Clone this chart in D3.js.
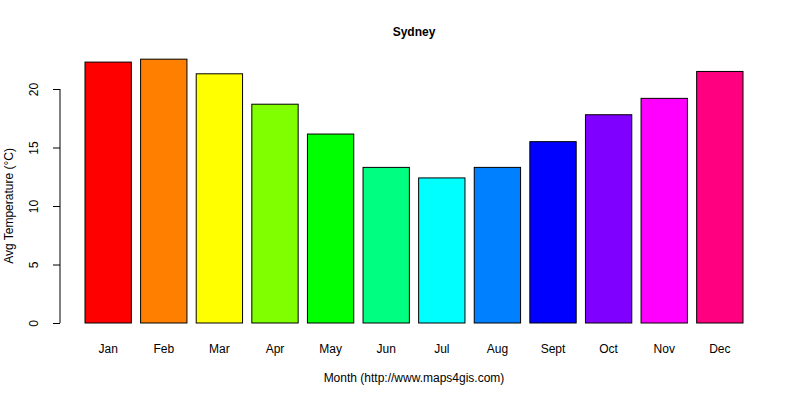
<!DOCTYPE html>
<html><head><meta charset="utf-8">
<script src="https://cdn.jsdelivr.net/npm/d3@7"></script>
<style>body{margin:0;background:#fff}text{font-family:"Liberation Sans",Arial,sans-serif;font-size:12px;fill:#000}</style>
</head><body><svg id="c" width="800" height="400"></svg>
<script>
const months=["Jan","Feb","Mar","Apr","May","Jun","Jul","Aug","Sept","Oct","Nov","Dec"];
const temps=[22.3,22.55,21.3,18.7,16.15,13.3,12.4,13.3,15.5,17.8,19.2,21.5];
const colors=["#FF0000","#FF8000","#FFFF00","#80FF00","#00FF00","#00FF80","#00FFFF","#0080FF","#0000FF","#8000FF","#FF00FF","#FF0080"];
const yTicks=[0,5,10,15,20];
const svg=d3.select("#c");
const x=d3.scaleLinear().domain([0.2,14.4]).range([85,743]);
const y=d3.scaleLinear().domain([0,20]).range([323,89]);
svg.selectAll("rect").data(temps).join("rect")
 .attr("x",(d,i)=>x(0.2+1.2*i)).attr("width",(d,i)=>x(1.2+1.2*i)-x(0.2+1.2*i))
 .attr("y",d=>y(d)).attr("height",d=>y(0)-y(d))
 .attr("fill",(d,i)=>colors[i]).attr("stroke","#000").attr("stroke-width",1);
svg.selectAll("text.m").data(months).join("text").attr("class","m")
 .attr("x",(d,i)=>x(0.7+1.2*i)).attr("y",353).attr("text-anchor","middle").text(d=>d);
const ax=svg.append("g").attr("transform","translate(60,0)")
 .call(d3.axisLeft(y).tickValues(yTicks).tickSize(7).tickFormat(d3.format("d")));
ax.select(".domain").attr("d","M0,"+y(0)+"V"+y(20));
ax.selectAll("text").attr("transform",d=>`rotate(-90,-13,${y(d)})`).attr("x",-13).attr("dy",0).attr("y",y=>0)
 .attr("text-anchor","middle").style("font-size","12px").style("font-family","Liberation Sans");
ax.selectAll(".tick text").attr("transform",function(d){return `translate(-22,${0}) rotate(-90)`}).attr("x",0).attr("y",0).attr("dy","0");
svg.append("text").attr("x",414).attr("y",36).attr("text-anchor","middle").style("font-weight","bold").text("Sydney");
svg.append("text").attr("x",414).attr("y",382).attr("text-anchor","middle").text("Month (http://www.maps4gis.com)");
svg.append("text").attr("transform","translate(13,206) rotate(-90)").attr("text-anchor","middle").text("Avg Temperature (°C)");
</script></body></html>
